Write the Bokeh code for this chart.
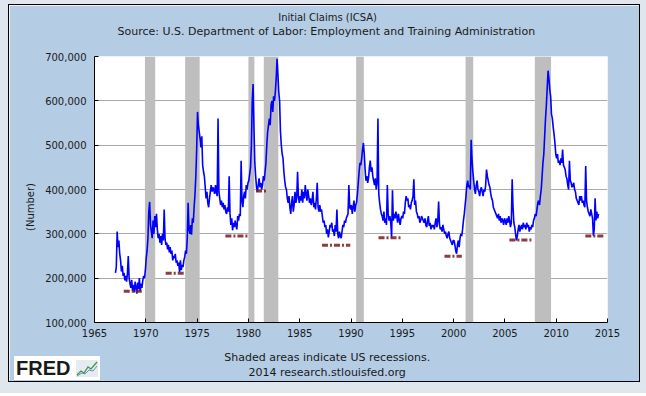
from math import pi
from bokeh.plotting import figure
from bokeh.models import Title, Range1d, FixedTicker, NumeralTickFormatter, Div
from bokeh.embed import file_html
from bokeh.resources import INLINE

# ---------------- data (monthly initial claims, thousands) ----------------
START_YEAR = 1967
claims_1967_1969 = [
    212, 225, 305, 270, 285, 255, 240, 215, 228, 205, 212, 195,
    205, 192, 210, 250, 200, 188, 178, 196, 172, 185, 168, 192,
    180, 165, 190, 175, 200, 170, 188, 178, 195, 205, 200, 218,
]
claims_1970s = [
    245, 262, 290, 350, 372, 320, 305, 290, 330, 300, 340, 315,
    345, 310, 290, 300, 280, 295, 275, 300, 285, 355, 290, 275,
    280, 265, 275, 258, 270, 255, 262, 240, 250, 245, 255, 235,
    240, 228, 235, 214, 240, 218, 230, 225, 240, 248, 262, 255,
    290, 370, 310, 300, 320, 298, 335, 325, 360, 388, 430, 490,
    575, 545, 530, 515, 495, 520, 455, 440, 430, 405, 380, 395,
    370, 360, 380, 395, 410, 395, 405, 400, 390, 410, 395, 385,
    560, 395, 380, 365, 375, 360, 370, 355, 365, 350, 345, 360,
    350, 430, 345, 320, 335, 308, 325, 315, 330, 318, 310, 340,
    330, 345, 340, 465, 375, 360, 385, 395, 380, 410, 400, 415,
]
claims_1980s = [
    420, 435, 450, 500, 600, 638, 540, 460, 430, 405, 395, 410,
    425, 405, 415, 400, 410, 430, 420, 440, 460, 500, 530, 545,
    560, 545, 590, 600, 575, 610, 600, 620, 650, 695, 660, 620,
    600, 530, 500, 480, 470, 440, 420, 405, 400, 380, 370, 385,
    360, 345, 370, 385, 350, 365, 395, 370, 380, 440, 385, 370,
    385, 375, 400, 370, 395, 380, 410, 390, 375, 400, 385, 370,
    380, 365, 375, 395, 360, 370, 355, 380, 415, 360, 350, 365,
    350, 355, 340, 325, 330, 315, 320, 300, 310, 292, 305, 320,
    315, 325, 305, 310, 295, 320, 305, 355, 300, 290, 305, 295,
    290, 305, 320, 315, 330, 325, 335, 340, 345, 410, 360, 355,
]
claims_1990s = [
    365, 345, 360, 375, 350, 365, 370, 390, 415, 440, 460, 455,
    470, 490, 505, 480, 445, 420, 430, 415, 425, 450, 465, 440,
    450, 430, 420, 410, 425, 400, 415, 560, 390, 370, 355, 345,
    340, 330, 350, 325, 335, 320, 410, 345, 330, 340, 325, 292,
    398, 330, 345, 335, 350, 340, 325, 345, 330, 320, 335, 340,
    335, 350, 345, 370, 385, 375, 380, 360, 365, 355, 370, 375,
    385, 423, 365, 375, 350, 345, 335, 340, 325, 330, 340, 335,
    330, 325, 335, 320, 315, 330, 340, 318, 325, 310, 320, 315,
    320, 310, 325, 335, 315, 330, 373, 320, 310, 315, 305, 320,
    310, 300, 305, 295, 290, 300, 305, 290, 285, 280, 275, 285,
]
claims_2000s = [
    285, 275, 262, 255, 275, 285, 270, 290, 300, 295, 310, 330,
    345, 365, 385, 410, 420, 405, 410, 400, 512, 470, 440, 420,
    400, 390, 410, 420, 400, 395, 385, 400, 405, 395, 385, 400,
    395, 410, 445, 430, 420, 410, 405, 390, 380, 375, 360, 355,
    350, 345, 340, 335, 345, 330, 340, 325, 335, 330, 320, 335,
    330, 320, 335, 325, 340, 330, 315, 325, 423, 360, 325, 315,
    300, 285, 295, 310, 320, 305, 315, 320, 310, 325, 315, 320,
    310, 325, 315, 320, 305, 315, 310, 320, 315, 330, 335, 345,
    340, 355, 370, 375, 365, 385, 400, 430, 460, 480, 520, 560,
    590, 630, 668, 650, 625, 610, 570, 560, 540, 525, 505, 480,
]
claims_2010s = [
    470, 480, 460, 465, 455, 470, 460, 490, 455, 450, 445, 430,
    425, 410, 400, 465, 420, 415, 405, 410, 415, 400, 395, 380,
    375, 370, 365, 385, 375, 385, 370, 375, 365, 360, 453, 375,
    360, 350, 345, 340, 355, 345, 335, 296, 310, 380, 330, 350,
    335, 345,
]

recession_start = ["1969-12", "1973-11", "1980-01", "1981-07", "1990-07", "2001-03", "2007-12"]
recession_end = ["1970-11", "1975-03", "1980-07", "1982-11", "1991-03", "2001-11", "2009-06"]

low_start = [1967.85, 1971.94, 1977.76, 1980.74, 1987.17, 1992.68, 1999.11, 2005.44, 2012.84]
low_end = [1969.64, 1973.70, 1979.93, 1981.72, 1989.93, 1994.86, 2000.80, 2007.62, 2014.66]
low_level = [170500, 211000, 295000, 396500, 274500, 291000, 249500, 286000, 295000]

year_ticks = [1965, 1970, 1975, 1980, 1985, 1990, 1995, 2000, 2005, 2010, 2015]
claim_ticks = [100000, 200000, 300000, 400000, 500000, 600000, 700000]

# ---------------- derived ----------------
claims_k = claims_1967_1969 + claims_1970s + claims_1980s + claims_1990s + claims_2000s + claims_2010s
claims = [v * 1000 for v in claims_k]
months_x = [START_YEAR + (i + 0.5) / 12 for i in range(len(claims))]


def ym_start(s):
    y, m = map(int, s.split("-"))
    return y + (m - 1) / 12


def ym_end(s):
    y, m = map(int, s.split("-"))
    return y + m / 12


rec_l = [ym_start(s) for s in recession_start]
rec_r = [ym_end(s) for s in recession_end]

X0, X1 = year_ticks[0], year_ticks[-1]
Y0, Y1 = claim_ticks[0], claim_ticks[-1]

# approximate DejaVu Sans advance widths (per 1000 em) to centre titles on the panel
_W = {' ': 318, '(': 390, ')': 390, '.': 318, ',': 318, ':': 337}
_W.update({c: 636 for c in "0123456789"})
_W.update(dict(zip("abcdefghijklmnopqrstuvwxyz",
                   [613, 635, 550, 635, 615, 352, 635, 634, 278, 278, 579, 278, 974,
                    634, 612, 635, 635, 411, 521, 392, 634, 592, 818, 592, 592, 525])))
_W.update(dict(zip("ABCDEFGHIJKLMNOPQRSTUVWXYZ",
                   [684, 686, 698, 770, 632, 575, 775, 752, 295, 295, 656, 557, 863,
                    748, 787, 603, 787, 695, 635, 611, 732, 684, 989, 685, 611, 685])))


def text_w(s, size):
    return sum(_W.get(c, 600) for c in s) * size / 1000


PANEL = "#b4cce4"
FONT = "DejaVu Sans"
MB_L, MB_R, MB_T, MB_B = 85, 32, 51, 59
CENTER_X = 318  # horizontal centre of the text block, canvas px

p = figure(width=630, height=376, output_backend="svg", toolbar_location=None,
           x_range=Range1d(X0, X1), y_range=Range1d(Y0, Y1),
           min_border_left=MB_L, min_border_right=MB_R, min_border_top=MB_T, min_border_bottom=MB_B,
           background_fill_color="white", border_fill_color=PANEL)
p.styles = {"position": "relative", "left": "9px", "top": "5px",
            "outline": "1px solid black",
            "box-shadow": "0 0 0 12px #dfe6ee"}
p.outline_line_color = None

p.quad(left=rec_l, right=rec_r, bottom=Y0, top=Y1, fill_color="#bebebe", line_color=None)
p.line(months_x, claims, line_color="#0000ff", line_width=1.6)
p.segment(x0=low_start, y0=low_level, x1=low_end, y1=low_level,
          line_color="#7a1a1a", line_width=3, line_alpha=0.85, line_dash="6 2 2 2")

for ax in (p.xaxis[0], p.yaxis[0]):
    ax.axis_line_color = "black"
    ax.axis_line_width = 1
    ax.major_tick_in = 4
    ax.major_tick_out = 0
    ax.major_tick_line_color = "black"
    ax.minor_tick_line_color = None
    ax.major_label_text_font = FONT
    ax.major_label_text_font_size = "10px"
    ax.major_label_text_color = "#1a1a1a"
p.xaxis.ticker = FixedTicker(ticks=year_ticks)
p.yaxis.ticker = FixedTicker(ticks=claim_ticks)
p.yaxis.formatter = NumeralTickFormatter(format="0,0")
p.xaxis.major_label_standoff = 6
p.yaxis.major_label_standoff = 8
p.yaxis.axis_label = "(Number)" + "\u00a0" * 11
p.yaxis.axis_label_text_font = FONT
p.yaxis.axis_label_text_font_size = "10px"
p.yaxis.axis_label_text_font_style = "normal"
p.yaxis.axis_label_text_color = "#1a1a1a"
p.yaxis.axis_label_standoff = 6
p.xgrid.grid_line_color = None
p.ygrid.grid_line_color = "#a9a9a9"
p.ygrid.grid_line_width = 1


def centred_title(txt, side, standoff, size=10):
    t = Title(text=txt, align="left", offset=CENTER_X - text_w(txt, size) / 2 - MB_L,
              text_font=FONT, text_font_size=f"{size}px", text_font_style="normal",
              text_color="#1a1a1a", standoff=standoff)
    p.add_layout(t, side)


def spacer(side, standoff):
    p.add_layout(Title(text="\u00a0", text_font_size="10px", standoff=standoff), side)


# above: stacked outward from the frame
spacer("above", 2.5)
centred_title("Source: U.S. Department of Labor: Employment and Training Administration", "above", 5.6, 11)
centred_title("Initial Claims (ICSA)", "above", -7.2, 10)
# below: stacked outward from the x axis
spacer("below", -6.8)
centred_title("Shaded areas indicate US recessions.", "below", 6, 11)
centred_title("2014 research.stlouisfed.org", "below", -5, 11)

# FRED logo (bottom-left of the panel)
logo_html = (
    '<div style="width:86px;height:24px;background:#ffffff;display:flex;align-items:center;'
    'box-sizing:border-box;padding-left:2px;">'
    '<span style="font-family:\'Liberation Sans\';font-weight:bold;font-size:20px;'
    'line-height:24px;color:#1a1a1a;">FRED</span>'
    '<svg width="22" height="17" style="margin-left:6px">'
    '<rect width="22" height="17" fill="#e6ebf0"/>'
    '<polyline points="1,15 5,11 8,13 12,7 15,9 21,2" fill="none" stroke="#3f9a3f" stroke-width="1.3"/>'
    '<polyline points="1,16 6,13 9,14 13,10 17,11 21,6" fill="none" stroke="#6a8cc8" stroke-width="1"/>'
    '</svg></div>'
)
logo = Div(text=logo_html, width=86, height=24,
           styles={"position": "absolute", "left": "5px", "top": "351px", "margin": "0"})
try:
    p.elements = [logo]
except Exception:
    pass

open("out.html", "w").write(file_html(p, INLINE))
